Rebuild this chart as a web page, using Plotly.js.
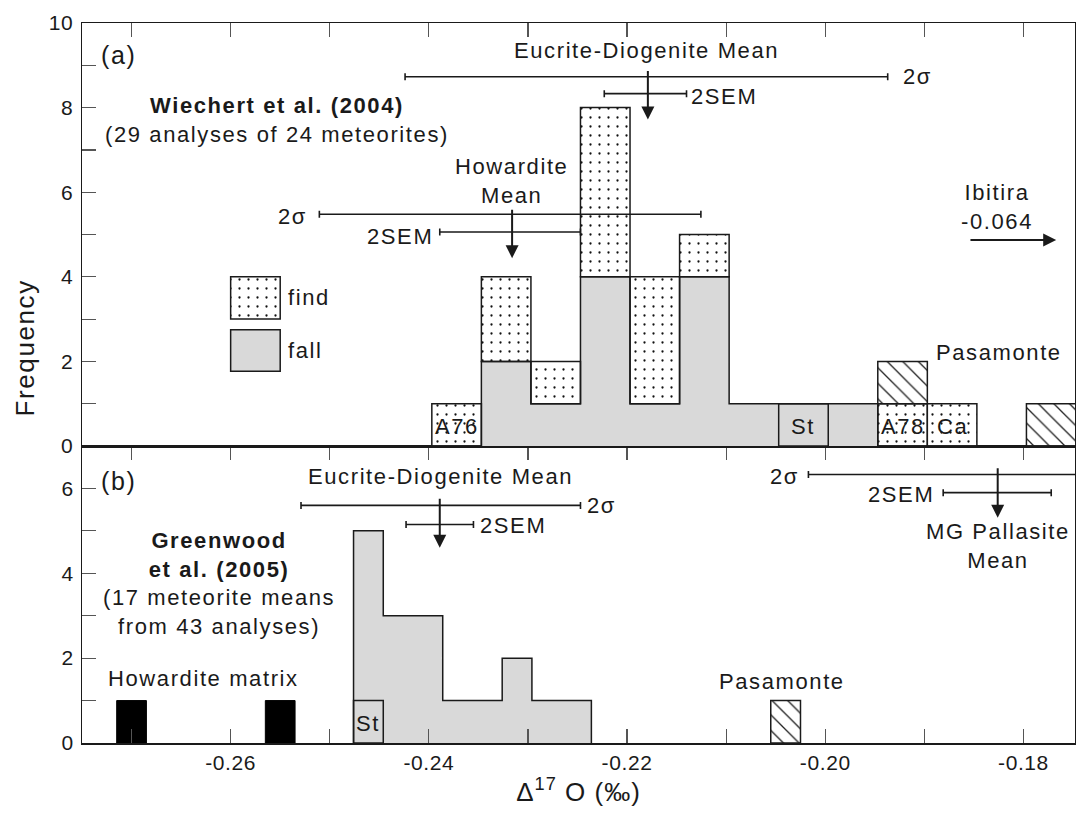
<!DOCTYPE html>
<html><head><meta charset="utf-8">
<script src="https://cdn.plot.ly/plotly-3.0.1.min.js"></script>
<style>
html,body{margin:0;padding:0;background:#fff;}
#chart{width:1076px;height:814px;}
.annotation-text{letter-spacing:1.6px;}
.xtick text,.ytick text{letter-spacing:0.6px;}
.xtitle{letter-spacing:1px;}
</style></head><body><div id="chart"></div>
<script>
// ---------- Panel (a): Wiechert et al. (2004), bins 0.005 wide ----------
const topBinCenters = [-0.2372,-0.2322,-0.2272,-0.2222,-0.2172,-0.2122,-0.2072,-0.2022,-0.1972,-0.1922,-0.1872,-0.1822,-0.1772];
const topFall      = [0,2,1,4,1,4,1,1,1,0,0,0,0];
const topFind      = [1,2,1,4,3,1,0,0,0,1,1,0,0];
const topPasamonte = [0,0,0,0,0,0,0,0,0,1,0,0,1];
const topFindLabels = ['A76','','','','','','','','','A78','Ca','',''];
const topStX = [-0.2022], topStN = [1], topStLabel = ['St'];
const topBinWidth = 0.005;

// ---------- Panel (b): Greenwood et al. (2005), bins 0.003 wide ----------
const matrixX = [-0.2700,-0.2550], matrixN = [1,1];
const botBinCenters = [-0.2461,-0.2431,-0.2401,-0.2371,-0.2341,-0.2311,-0.2281,-0.2251];
const botCounts     = [5,3,3,1,1,2,1,1];
const botStX = [-0.2461], botStN = [1], botStLabel = ['St'];
const botPasX = [-0.2040], botPasN = [1];
const botBinWidth = 0.003;

// ---------- Means with 2 sigma and 2 SEM ranges ----------
const topMeanX   = [-0.21805, -0.21815, -0.2318, -0.2318];
const topMeanY   = [8.73, 8.33, 5.48, 5.06];
const topMeanErr = [0.02435, 0.00415, 0.01925, 0.0071];
const botMeanX   = [-0.2388, -0.2389, -0.1826, -0.18265];
const botMeanY   = [5.60, 5.15, 6.33, 5.90];
const botMeanErr = [0.0141, 0.0034, 0.0191, 0.00545];

// ---------- Ticks ----------
const xTickVals = [-0.27,-0.26,-0.25,-0.24,-0.23,-0.22,-0.21,-0.20,-0.19,-0.18];
const xTickText = ['','-0.26','','-0.24','','-0.22','','-0.20','','-0.18'];
const yTopVals = [0,1,2,3,4,5,6,7,8,9,10];
const yTopText = ['0','','2','','4','','6','','8','','10'];
const yBotVals = [0,1,2,3,4,5,6];
const yBotText = ['0','','2','','4','','6'];

const FONT = 'Liberation Sans, Arial, sans-serif';
const INK = '#1a1a1a';
const GRAY = '#d9d9d9';
const LW = 1.5;
const dots = {shape:'.', size:9, solidity:0.05, fgcolor:'#111', bgcolor:'#fff'};
const hatch = {shape:'\\', size:11, solidity:0.12, fgcolor:'#222', bgcolor:'#fff'};

function nz(xs, ys, base){
  const o = {x:[], y:[], base:[]};
  ys.forEach((v,i)=>{ if(v>0){ o.x.push(xs[i]); o.y.push(v); o.base.push(base ? base[i] : 0); }});
  return o;
}
function stepOutline(centers, counts, w){
  const xs=[centers[0]-w/2], ys=[0];
  centers.forEach((c,i)=>{ xs.push(c-w/2); ys.push(counts[i]); });
  xs.push(centers[centers.length-1]+w/2); ys.push(0);
  return {xs, ys};
}

const traces = [];
const tf = nz(topBinCenters, topFall);
traces.push({type:'bar', x:tf.x, y:tf.y, base:tf.base, width:topBinWidth, xaxis:'x2', yaxis:'y',
  marker:{color:GRAY, line:{width:0}}});
const tfi = nz(topBinCenters, topFind, topFall);
traces.push({type:'bar', x:tfi.x, y:tfi.y, base:tfi.base, width:topBinWidth, xaxis:'x2', yaxis:'y',
  marker:{color:'#fff', pattern:dots, line:{color:INK, width:LW}}});
const pasBase = topFall.map((v,i)=>v+topFind[i]);
const tp = nz(topBinCenters, topPasamonte, pasBase);
traces.push({type:'bar', x:tp.x, y:tp.y, base:tp.base, width:topBinWidth, xaxis:'x2', yaxis:'y',
  marker:{color:'#fff', pattern:hatch, line:{color:INK, width:LW}}});
traces.push({type:'bar', x:topStX, y:topStN, base:[0], width:topBinWidth, xaxis:'x2', yaxis:'y',
  marker:{color:'rgba(0,0,0,0)', line:{color:INK, width:LW}}});
const to = stepOutline(topBinCenters, topFall, topBinWidth);
traces.push({type:'scatter', mode:'lines', x:to.xs, y:to.ys, xaxis:'x2', yaxis:'y',
  line:{color:INK, width:LW, shape:'hv'}});

traces.push({type:'bar', x:matrixX, y:matrixN, base:[0,0], width:botBinWidth, xaxis:'x', yaxis:'y2',
  marker:{color:'#000', line:{color:'#000', width:1}}});
traces.push({type:'bar', x:botBinCenters, y:botCounts, base:botCounts.map(()=>0), width:botBinWidth, xaxis:'x', yaxis:'y2',
  marker:{color:GRAY, line:{width:0}}});
traces.push({type:'bar', x:botStX, y:botStN, base:[0], width:botBinWidth, xaxis:'x', yaxis:'y2',
  marker:{color:'rgba(0,0,0,0)', line:{color:INK, width:LW}}});
const bo = stepOutline(botBinCenters, botCounts, botBinWidth);
traces.push({type:'scatter', mode:'lines', x:bo.xs, y:bo.ys, xaxis:'x', yaxis:'y2',
  line:{color:INK, width:LW, shape:'hv'}});
traces.push({type:'bar', x:botPasX, y:botPasN, base:[0], width:botBinWidth, xaxis:'x', yaxis:'y2',
  marker:{color:'#fff', pattern:hatch, line:{color:INK, width:LW}}});

// legend keys (find / fall)
const keyX = -0.2575, keyW = 0.005;
traces.push({type:'bar', x:[keyX], y:[1.0], base:[3.0], width:keyW, xaxis:'x2', yaxis:'y',
  marker:{color:'#fff', pattern:dots, line:{color:INK, width:LW}}});
traces.push({type:'bar', x:[keyX], y:[0.98], base:[1.77], width:keyW, xaxis:'x2', yaxis:'y',
  marker:{color:GRAY, line:{color:INK, width:LW}}});

traces.push({type:'scatter', mode:'markers', x:topMeanX, y:topMeanY, xaxis:'x2', yaxis:'y',
  marker:{size:0, color:'rgba(0,0,0,0)'},
  error_x:{type:'data', array:topMeanErr, symmetric:true, color:INK, thickness:1.6, width:3.5}});
traces.push({type:'scatter', mode:'markers', x:botMeanX, y:botMeanY, xaxis:'x', yaxis:'y2',
  marker:{size:0, color:'rgba(0,0,0,0)'},
  error_x:{type:'data', array:botMeanErr, symmetric:true, color:INK, thickness:1.6, width:3.5}});

// ---------- annotations ----------
function txt(ref, x, y, text, opt){
  return Object.assign({xref:ref[0], yref:ref[1], x:x, y:y, text:text, showarrow:false,
    xanchor:'center', yanchor:'middle', font:{family:FONT, size:22, color:INK}}, opt||{});
}
function arrow(ref, x0, y0, x1, y1){
  return {xref:ref[0], yref:ref[1], axref:ref[0], ayref:ref[1], x:x1, y:y1, ax:x0, ay:y0,
    text:'', showarrow:true, arrowhead:2, arrowsize:1.3, arrowwidth:2, arrowcolor:INK,
    standoff:0, startstandoff:0};
}
const T = ['x2','y'], B = ['x','y2'];
const barFont = {family:FONT, size:22, color:INK};
const annotations = [];
topFindLabels.forEach((s,i)=>{ if(s) annotations.push(txt(T, topBinCenters[i], topFall[i]+topFind[i]/2 - 0.05, s, {font:barFont})); });
topStLabel.forEach((s,i)=>annotations.push(txt(T, topStX[i], topStN[i]/2 - 0.05, s, {font:barFont})));
botStLabel.forEach((s,i)=>annotations.push(txt(B, botStX[i], botStN[i]/2 - 0.05, s, {font:barFont})));

annotations.push(
  txt(T, -0.2713, 9.24, '(a)', {font:{family:FONT, size:25, color:INK}}),
  txt(T, -0.2180, 9.36, 'Eucrite-Diogenite Mean'),
  txt(T, -0.1924, 8.73, '2σ', {xanchor:'left'}),
  txt(T, -0.2137, 8.27, '2SEM', {xanchor:'left'}),
  txt(T, -0.2553, 7.71, '<b>Wiechert et al. (2004)</b><br>(29 analyses of 24 meteorites)'),
  txt(T, -0.2317, 6.27, 'Howardite<br>Mean'),
  txt(T, -0.2521, 5.42, '2σ', {xanchor:'right'}),
  txt(T, -0.2394, 4.95, '2SEM', {xanchor:'right'}),
  txt(T, -0.1827, 5.66, 'Ibitira<br>-0.064'),
  txt(T, -0.2544, 3.50, 'find', {xanchor:'left'}),
  txt(T, -0.2544, 2.26, 'fall', {xanchor:'left'}),
  txt(T, -0.1825, 2.20, 'Pasamonte'),
  arrow(T, -0.2179, 8.90, -0.2179, 7.72),
  arrow(T, -0.2316, 5.62, -0.2316, 4.44),
  arrow(T, -0.1855, 4.87, -0.1767, 4.87),

  txt(B, -0.2713, 6.17, '(b)', {font:{family:FONT, size:25, color:INK}}),
  txt(B, -0.2388, 6.29, 'Eucrite-Diogenite Mean'),
  txt(B, -0.2242, 5.60, '2σ', {xanchor:'left'}),
  txt(B, -0.2350, 5.12, '2SEM', {xanchor:'left'}),
  txt(B, -0.2612, 3.75, '<b>Greenwood</b><br><b>et al. (2005)</b><br>(17 meteorite means<br>from 43 analyses)'),
  txt(B, -0.2627, 1.53, 'Howardite matrix'),
  txt(B, -0.2044, 1.45, 'Pasamonte'),
  txt(B, -0.2024, 6.29, '2σ', {xanchor:'right'}),
  txt(B, -0.1888, 5.86, '2SEM', {xanchor:'right'}),
  txt(B, -0.1826, 4.65, 'MG Pallasite<br>Mean'),
  arrow(B, -0.2389, 5.79, -0.2389, 4.60),
  arrow(B, -0.1826, 6.51, -0.1826, 5.31),

  {xref:'paper', yref:'paper', x:-0.0574, y:0.548, text:'Frequency', textangle:-90, showarrow:false,
   xanchor:'center', yanchor:'middle', font:{family:FONT, size:26, color:INK}}
);

const xRange = [-0.2750, -0.1748];
const axisCommon = {showline:true, linecolor:INK, linewidth:LW, ticks:'inside', ticklen:14,
  tickwidth:1.2, tickcolor:'#555', showgrid:false, zeroline:false,
  tickfont:{family:FONT, size:21, color:INK}};

const layout = {
  width:1076, height:814,
  margin:{l:82, r:1, t:23, b:71},
  paper_bgcolor:'#fff', plot_bgcolor:'#fff',
  font:{family:FONT, size:21, color:INK},
  showlegend:false, hovermode:false, barmode:'overlay', bargap:0,
  xaxis: Object.assign({}, axisCommon, {domain:[0,1], anchor:'y2', range:xRange, mirror:'ticks',
    tickmode:'array', tickvals:xTickVals, ticktext:xTickText, ticklabelstandoff:0,
    title:{text:'Δ<sup>17</sup> O (‰)', font:{family:FONT, size:26, color:INK}, standoff:6}}),
  xaxis2: Object.assign({}, axisCommon, {domain:[0,1], anchor:'y', range:xRange, matches:'x',
    side:'top', mirror:true, showticklabels:false, tickmode:'array', tickvals:xTickVals}),
  yaxis: Object.assign({}, axisCommon, {domain:[0.4125,1], anchor:'x2', range:[0,10], mirror:true,
    tickmode:'array', tickvals:yTopVals, ticktext:yTopText, ticklabelstandoff:3}),
  yaxis2: Object.assign({}, axisCommon, {domain:[0,0.4125], anchor:'x', range:[0,7], mirror:true,
    tickmode:'array', tickvals:yBotVals, ticktext:yBotText, ticklabelstandoff:3}),
  annotations: annotations
};

Plotly.newPlot('chart', traces, layout, {displayModeBar:false, staticPlot:true});
</script></body></html>
